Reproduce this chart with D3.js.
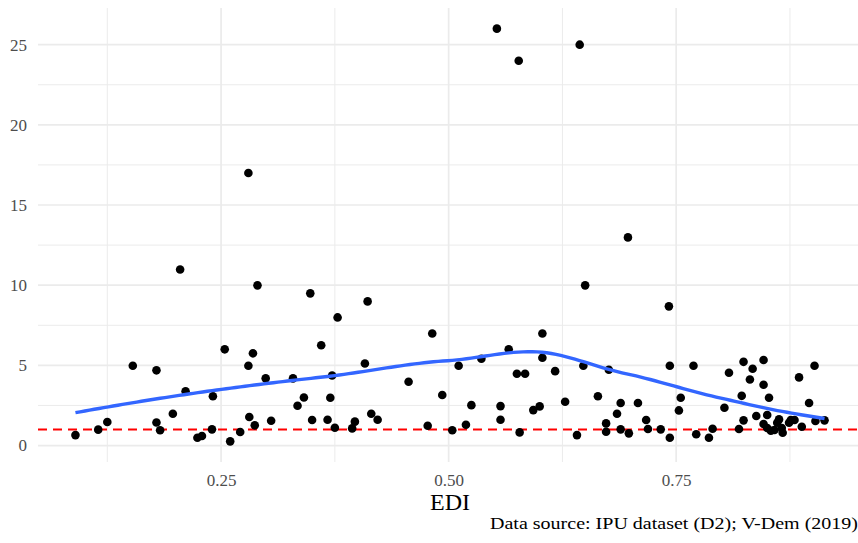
<!DOCTYPE html>
<html>
<head>
<meta charset="utf-8">
<script src="https://cdn.jsdelivr.net/npm/d3@7"></script>
<style>
  body { margin: 0; background: #fff; }
  svg { display: block; }
</style>
</head>
<body>
<svg id="chart" width="858" height="543"></svg>
<script>
// Electoral democracy index (EDI) per country
const edi = [
  0.280, 0.553, 0.577, 0.644,
  0.090, 0.115, 0.125, 0.153, 0.179, 0.179, 0.183, 0.197, 0.205, 0.211,
  0.224, 0.229, 0.240, 0.241, 0.254, 0.260, 0.271, 0.280, 0.281, 0.285,
  0.287, 0.290, 0.299, 0.305, 0.329, 0.334, 0.341, 0.348, 0.350, 0.360,
  0.367, 0.370, 0.372, 0.375, 0.378, 0.394, 0.397, 0.408, 0.411, 0.415,
  0.422, 0.456, 0.477, 0.482, 0.493, 0.504, 0.511, 0.519, 0.525, 0.536,
  0.557, 0.557, 0.566, 0.575, 0.584, 0.578, 0.593, 0.600, 0.603, 0.603,
  0.617, 0.628, 0.641, 0.648, 0.650, 0.664,
  0.673, 0.673, 0.676, 0.685, 0.689, 0.689, 0.697, 0.698, 0.708, 0.717,
  0.719, 0.733, 0.742, 0.743, 0.743, 0.753, 0.755, 0.769, 0.772, 0.786,
  0.790, 0.803, 0.808, 0.819, 0.822, 0.824, 0.824, 0.831, 0.834, 0.838,
  0.846, 0.846, 0.850, 0.852, 0.846, 0.850, 0.854, 0.858, 0.861, 0.863,
  0.866, 0.867, 0.874, 0.876, 0.880, 0.885, 0.888, 0.896, 0.902, 0.903,
  0.913
];

// Ratio value for the same countries, in the same order
const ratio = [
  17.0, 26.0, 24.0, 25.0,
  0.65, 0.99, 1.47, 4.98, 4.69, 1.44, 0.95, 1.98, 10.98, 3.38,
  0.49, 0.59, 1.01, 3.07, 6.00, 0.26, 0.84, 4.98, 1.78, 5.75,
  1.26, 9.99, 4.19, 1.55, 4.19, 2.48, 3.00, 9.49, 1.59, 6.25,
  1.61, 2.98, 4.37, 1.11, 7.99, 1.07, 1.49, 5.12, 8.99, 1.98,
  1.61, 3.98, 1.23, 6.99, 3.15, 0.95, 4.98, 1.30, 2.52, 5.41,
  2.46, 1.61, 6.00, 4.48, 4.48, 0.82, 2.21, 2.44, 6.99, 5.47,
  4.64, 2.73, 0.65, 4.98, 9.99, 3.07,
  1.38, 0.86, 4.73, 1.98, 1.01, 2.65, 12.98, 0.76, 2.65, 1.59,
  1.03, 1.01, 8.68, 4.98, 0.49, 2.19, 2.98, 4.98, 0.70, 0.49,
  1.05, 2.36, 4.54, 1.03, 3.10, 5.22, 1.57, 4.12, 4.79, 1.84,
  3.79, 5.33, 1.90, 2.98, 1.34, 1.09, 0.92, 0.97, 1.42, 1.63,
  1.09, 0.80, 1.42, 1.59, 1.59, 4.25, 1.17, 2.65, 4.98, 1.53,
  1.57
];

const xMajor = [0.25, 0.50, 0.75];
const xMinor = [0.125, 0.375, 0.625, 0.875];
const yMajor = [0, 5, 10, 15, 20, 25];
const yMinor = [2.5, 7.5, 12.5, 17.5, 22.5];
const parityLevel = [1];
const xTitle = "EDI";
const captionText = "Data source: IPU dataset (D2); V-Dem (2019)";

const points = edi.map((e, i) => ({ x: e, y: ratio[i] }));

// Panel geometry
const panel = { left: 38, right: 862, top: 8, bottom: 462 };

// Continuous scales with 5% padding around the data range
function padded(ext) {
  const d = (ext[1] - ext[0]) * 0.05;
  return [ext[0] - d, ext[1] + d];
}
const x = d3.scaleLinear().domain(padded(d3.extent(edi))).range([panel.left, panel.right]);
const y = d3.scaleLinear().domain(padded(d3.extent(ratio))).range([panel.bottom, panel.top]);

// ---- LOESS (span 0.75, degree 2, tricube weights) ----
// Local fit at x0: returns fitted value and slope.
function localFit(xs, ys, span, x0) {
  const n = xs.length;
  const q = Math.floor(n * span);
  const dist = xs.map(v => Math.abs(v - x0));
  const h = dist.slice().sort((a, b) => a - b)[q - 1];
  const S = [[0,0,0],[0,0,0],[0,0,0]], b = [0,0,0];
  for (let i = 0; i < n; i++) {
    const r = dist[i] / h;
    if (r >= 1) continue;
    const w = Math.pow(1 - r * r * r, 3);
    const u = xs[i] - x0;
    const f = [1, u, u * u];
    for (let j = 0; j < 3; j++) {
      b[j] += w * f[j] * ys[i];
      for (let k = 0; k < 3; k++) S[j][k] += w * f[j] * f[k];
    }
  }
  const A = S.map((row, i) => row.concat([b[i]]));
  for (let c = 0; c < 3; c++) {
    let p = c;
    for (let r = c + 1; r < 3; r++) if (Math.abs(A[r][c]) > Math.abs(A[p][c])) p = r;
    [A[c], A[p]] = [A[p], A[c]];
    for (let r = c + 1; r < 3; r++) {
      const m = A[r][c] / A[c][c];
      for (let k = c; k < 4; k++) A[r][k] -= m * A[c][k];
    }
  }
  const beta = [0, 0, 0];
  for (let r = 2; r >= 0; r--) {
    let s = A[r][3];
    for (let k = r + 1; k < 3; k++) s -= A[r][k] * beta[k];
    beta[r] = s / A[r][r];
  }
  return { v: beta[0], s: beta[1] };
}

// Fit on kd-tree vertices and blend between them with cubic Hermite pieces
function loessCurve(xs, ys, span, at) {
  const sorted = xs.slice().sort((a, b) => a - b);
  const n = sorted.length;
  const fc = Math.floor(n * span * 0.2);
  const lo = sorted[0], hi = sorted[n - 1];
  const margin = 0.005 * (hi - lo);
  const verts = [lo - margin, hi + margin];
  (function split(pts) {
    if (pts.length <= fc) return;
    const m = Math.floor((pts.length - 1) / 2);
    const v = pts.length % 2 ? pts[m] : (pts[m] + pts[m + 1]) / 2;
    const left = pts.filter(p => p <= v), right = pts.filter(p => p > v);
    if (!left.length || !right.length) return;
    verts.push(v);
    split(left); split(right);
  })(sorted);
  verts.sort((a, b) => a - b);
  const fits = verts.map(v => localFit(xs, ys, span, v));
  return at.map(x0 => {
    let i = d3.bisectRight(verts, x0) - 1;
    i = Math.max(0, Math.min(verts.length - 2, i));
    const x1 = verts[i], x2 = verts[i + 1], hgap = x2 - x1;
    const t = (x0 - x1) / hgap;
    const h00 = 2*t*t*t - 3*t*t + 1, h10 = t*t*t - 2*t*t + t;
    const h01 = -2*t*t*t + 3*t*t, h11 = t*t*t - t*t;
    const f1 = fits[i], f2 = fits[i + 1];
    return { x: x0, y: h00*f1.v + h10*hgap*f1.s + h01*f2.v + h11*hgap*f2.s };
  });
}

const [xMin, xMax] = d3.extent(edi);
const grid = d3.range(160).map(i => xMin + (xMax - xMin) * i / 159);
const smooth = loessCurve(edi, ratio, 0.75, grid);

const svg = d3.select("#chart");
const gridColor = "#EBEBEB";

// Grid lines
const gGrid = svg.append("g");
gGrid.selectAll(".vminor").data(xMinor).join("line")
  .attr("x1", d => x(d)).attr("x2", d => x(d))
  .attr("y1", panel.top).attr("y2", panel.bottom)
  .attr("stroke", gridColor).attr("stroke-width", 1.0);
gGrid.selectAll(".hminor").data(yMinor).join("line")
  .attr("y1", d => y(d)).attr("y2", d => y(d))
  .attr("x1", panel.left).attr("x2", panel.right)
  .attr("stroke", gridColor).attr("stroke-width", 1.0);
gGrid.selectAll(".vmajor").data(xMajor).join("line")
  .attr("x1", d => x(d)).attr("x2", d => x(d))
  .attr("y1", panel.top).attr("y2", panel.bottom)
  .attr("stroke", gridColor).attr("stroke-width", 1.7);
gGrid.selectAll(".hmajor").data(yMajor).join("line")
  .attr("y1", d => y(d)).attr("y2", d => y(d))
  .attr("x1", panel.left).attr("x2", panel.right)
  .attr("stroke", gridColor).attr("stroke-width", 1.7);

// Axes (labels only, no domain or tick marks)
const font = "'Liberation Serif', 'Times New Roman', serif";
const xAxis = svg.append("g")
  .attr("transform", `translate(0,${panel.bottom})`)
  .call(d3.axisBottom(x).tickValues(xMajor).tickFormat(d3.format(".2f")).tickSize(0).tickPadding(12));
const yAxis = svg.append("g")
  .attr("transform", `translate(${panel.left},0)`)
  .call(d3.axisLeft(y).tickValues(yMajor).tickFormat(d3.format("d")).tickSize(0).tickPadding(11));
[xAxis, yAxis].forEach(g => {
  g.select(".domain").remove();
  g.selectAll("text").attr("font-family", font).attr("font-size", 17).attr("fill", "#4D4D4D");
});

// Reference line at parity
svg.append("g").selectAll("line").data(parityLevel).join("line")
  .attr("x1", panel.left).attr("x2", panel.right)
  .attr("y1", d => y(d)).attr("y2", d => y(d))
  .attr("stroke", "#FF0000").attr("stroke-width", 2)
  .attr("stroke-dasharray", "9,6");

// Points
svg.append("g").selectAll("circle").data(points).join("circle")
  .attr("cx", d => x(d.x)).attr("cy", d => y(d.y))
  .attr("r", 4.3).attr("fill", "#000");

// Smoothed trend
svg.append("path").datum(smooth)
  .attr("d", d3.line().x(d => x(d.x)).y(d => y(d.y)))
  .attr("fill", "none").attr("stroke", "#3366FF").attr("stroke-width", 3.4)
  .attr("stroke-linejoin", "round").attr("stroke-linecap", "butt");

// Axis title
svg.append("text")
  .attr("x", 450).attr("y", 510)
  .attr("text-anchor", "middle")
  .attr("font-family", font).attr("font-size", 24).attr("fill", "#000")
  .text(xTitle);

// Caption
svg.append("text")
  .attr("x", 490).attr("y", 529)
  .attr("text-anchor", "start")
  .attr("textLength", 368).attr("lengthAdjust", "spacingAndGlyphs")
  .attr("font-family", font).attr("font-size", 16.5).attr("fill", "#000")
  .text(captionText);
</script>
</body>
</html>
